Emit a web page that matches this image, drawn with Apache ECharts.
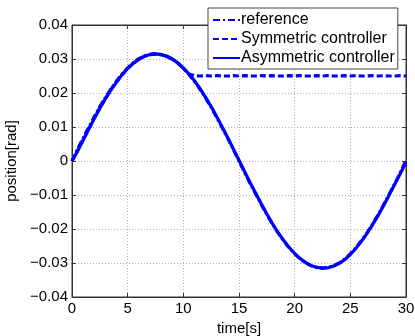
<!DOCTYPE html>
<html>
<head>
<meta charset="utf-8">
<script src="https://cdn.jsdelivr.net/npm/echarts@6/dist/echarts.min.js"></script>
<style>
html,body{margin:0;padding:0;background:#fff;}
#c{width:415px;height:336px;}
</style>
</head>
<body>
<div id="c"></div>
<script>
// time samples [s]
const time = [0,0.5,1,1.5,2,2.5,3,3.5,4,4.5,5,5.5,6,6.5,7,7.5,8,8.5,9,9.5,10,10.5,11,11.5,12,12.5,13,13.5,14,14.5,15,15.5,16,16.5,17,17.5,18,18.5,19,19.5,20,20.5,21,21.5,22,22.5,23,23.5,24,24.5,25,25.5,26,26.5,27,27.5,28,28.5,29,29.5,30];
// reference [rad]
const reference = [0,0.0035,0.0068,0.0099,0.0130,0.0160,0.0187,0.0212,0.0235,0.0256,0.0274,0.0289,0.0301,0.0309,0.0314,0.0315,0.0313,0.0308,0.0300,0.0288,0.0273,0.0255,0.0234,0.0211,0.0185,0.0158,0.0128,0.0097,0.0066,0.0033,0,-0.0033,-0.0066,-0.0097,-0.0128,-0.0158,-0.0185,-0.0211,-0.0234,-0.0255,-0.0273,-0.0288,-0.0300,-0.0308,-0.0313,-0.0315,-0.0313,-0.0308,-0.0300,-0.0288,-0.0273,-0.0255,-0.0234,-0.0211,-0.0185,-0.0158,-0.0128,-0.0097,-0.0066,-0.0033,0.0002];
// symmetric controller [rad] (saturates near 0.025)
const symmetric = [0,0.0030,0.0062,0.0094,0.0126,0.0156,0.0184,0.0210,0.0233,0.0254,0.0272,0.0287,0.0300,0.0308,0.0313,0.0315,0.0313,0.0308,0.0300,0.0288,0.0273,0.0256,0.0251,0.0250,0.0251,0.0250,0.0251,0.0250,0.0250,0.0251,0.0250,0.0251,0.0250,0.0250,0.0251,0.0250,0.0251,0.0250,0.0250,0.0251,0.0250,0.0251,0.0250,0.0250,0.0251,0.0250,0.0251,0.0250,0.0250,0.0251,0.0250,0.0251,0.0250,0.0250,0.0251,0.0250,0.0251,0.0250,0.0250,0.0251,0.0250];
// asymmetric controller [rad]
const asymmetric = [0,0.0029,0.0061,0.0093,0.0125,0.0155,0.0183,0.0209,0.0232,0.0254,0.0272,0.0287,0.0299,0.0308,0.0313,0.0315,0.0313,0.0308,0.0300,0.0289,0.0274,0.0256,0.0236,0.0213,0.0187,0.0160,0.0130,0.0099,0.0068,0.0035,0.0002,-0.0031,-0.0064,-0.0095,-0.0126,-0.0156,-0.0184,-0.0210,-0.0233,-0.0254,-0.0272,-0.0287,-0.0299,-0.0308,-0.0313,-0.0315,-0.0314,-0.0309,-0.0301,-0.0290,-0.0275,-0.0257,-0.0236,-0.0213,-0.0187,-0.0160,-0.0130,-0.0099,-0.0068,-0.0036,-0.0004];
const xTicks = {min:0, max:30, interval:5};
const yTicks = {min:-0.04, max:0.04, interval:0.01};

const pair = (arr) => time.map((t,i)=>[t,arr[i]]);
const fmtY = v => { const r = Math.round(v*100)/100; if (r===0) return '0'; return (r<0?'\u2212':'') + Math.abs(r).toFixed(2); };
const FONT = 'Liberation Sans';
const chart = echarts.init(document.getElementById('c'), null, {renderer:'canvas'});
const splitDotted = {show:true, lineStyle:{color:'#b0b0b0', type:[1,2], width:1}};
chart.setOption({
  animation:false,
  backgroundColor:'#fff',
  grid:{left:72, right:9, top:25, bottom:39, show:true, borderColor:'#333', borderWidth:1, containLabel:false, outerBoundsMode:'none'},
  legend:{
    left:208, top:8, orient:'vertical', width:191,
    itemStyle:{opacity:0},
    backgroundColor:'#fff', borderColor:'#444', borderWidth:1,
    padding:[4,3,3,4], itemGap:3, itemWidth:27, itemHeight:15,
    textStyle:{fontFamily:FONT, fontSize:16, color:'#000', padding:[0,0,0,-4]},
    data:['reference','Symmetric controller','Asymmetric controller']
  },
  xAxis:[{
    type:'value', min:xTicks.min, max:xTicks.max, interval:xTicks.interval,
    name:'time[s]', nameLocation:'middle', nameGap:19,
    nameTextStyle:{fontFamily:FONT, fontSize:15, color:'#000'},
    axisLine:{show:true, onZero:false, lineStyle:{color:'#333'}},
    axisTick:{show:true, inside:true, length:4, lineStyle:{color:'#333'}},
    axisLabel:{fontFamily:FONT, fontSize:15, color:'#000', margin:4},
    splitLine:splitDotted
  },{
    type:'value', position:'top', min:xTicks.min, max:xTicks.max, interval:xTicks.interval,
    axisLine:{show:true, onZero:false, lineStyle:{color:'#333'}},
    axisTick:{show:true, inside:true, length:4, lineStyle:{color:'#333'}},
    axisLabel:{show:false}, splitLine:{show:false}
  }],
  yAxis:[{
    type:'value', min:yTicks.min, max:yTicks.max, interval:yTicks.interval,
    name:'position[rad]', nameLocation:'middle', nameGap:44, nameRotate:90,
    nameTextStyle:{fontFamily:FONT, fontSize:15, color:'#000'},
    axisLine:{show:true, onZero:false, lineStyle:{color:'#333'}},
    axisTick:{show:true, inside:true, length:4, lineStyle:{color:'#333'}},
    axisLabel:{fontFamily:FONT, fontSize:15, color:'#000', margin:4, formatter:fmtY},
    splitLine:splitDotted
  },{
    type:'value', position:'right', min:yTicks.min, max:yTicks.max, interval:yTicks.interval,
    axisLine:{show:true, onZero:false, lineStyle:{color:'#333'}},
    axisTick:{show:true, inside:true, length:4, lineStyle:{color:'#333'}},
    axisLabel:{show:false}, splitLine:{show:false}
  }],
  series:[
    {name:'reference', type:'line', data:pair(reference), showSymbol:false, symbol:'none',
     lineStyle:{color:'#0000ff', width:3.2, type:[7,3,2,3]}, itemStyle:{color:'#0000ff'}},
    {name:'Symmetric controller', type:'line', data:pair(symmetric), showSymbol:false, symbol:'none',
     lineStyle:{color:'#0000ff', width:3.2, type:[6,3]}, itemStyle:{color:'#0000ff'}},
    {name:'Asymmetric controller', type:'line', data:pair(asymmetric), showSymbol:false, symbol:'none',
     lineStyle:{color:'#0000ff', width:3.2, type:'solid'}, itemStyle:{color:'#0000ff'}}
  ]
});
</script>
</body>
</html>
